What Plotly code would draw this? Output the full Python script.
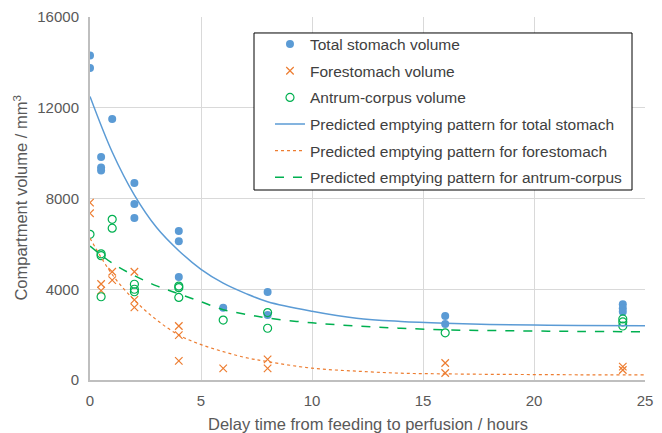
import plotly.graph_objects as go

# ---- data ----
total_t = [0, 0, 0.5, 0.5, 0.5, 1, 2, 2, 2, 4, 4, 4, 6, 8, 8, 16, 16, 24, 24, 24]
total_v = [14300, 13750, 9830, 9370, 9230, 11500, 8680, 7760, 7140, 6570, 6120, 4540,
           3180, 3880, 2870, 2820, 2470, 3340, 3160, 3010]

fore_t = [0, 0, 0.5, 0.5, 1, 1, 2, 2, 2, 4, 4, 4, 6, 8, 8, 16, 16, 24, 24]
fore_v = [7820, 7350, 4230, 3940, 4770, 4400, 4770, 3530, 3200, 2380, 1980, 840,
          510, 910, 510, 750, 310, 590, 440]

antrum_t = [0, 0.5, 0.5, 0.5, 1, 1, 2, 2, 2, 4, 4, 4, 6, 8, 8, 16, 24, 24, 24]
antrum_v = [6420, 5560, 5480, 3670, 7080, 6690, 4220, 4000, 3890, 4140, 4070, 3640,
            2640, 2970, 2280, 2080, 2690, 2560, 2380]

curve_t = [0, 1, 2, 3, 4, 5, 6, 7, 8, 10, 12, 14, 16, 18, 20, 22, 25]
pred_total = [12500, 10050, 8150, 6720, 5700, 4880, 4270, 3820, 3450, 3030, 2720,
              2580, 2500, 2450, 2420, 2400, 2390]
pred_fore = [6250, 4650, 3520, 2650, 1980, 1560, 1250, 990, 810, 520, 390, 300,
             270, 250, 240, 230, 225]
pred_antrum = [5900, 5150, 4600, 4150, 3800, 3450, 3100, 2900, 2730, 2520, 2380,
               2280, 2210, 2180, 2160, 2140, 2130]

x_ticks = [0, 5, 10, 15, 20, 25]
x_ticktext = ["0", "5", "10", "15", "20", "25"]
y_ticks = [0, 4000, 8000, 12000, 16000]
y_ticktext = ["0", "4000", "8000", "12000", "16000"]

x_title = "Delay time from feeding to perfusion / hours"
y_title = "Compartment volume / mm<sup>3</sup>"

BLUE = "#5B9BD5"
ORANGE = "#ED7D31"
GREEN = "#00B050"
FONT = "Liberation Sans, Arial, sans-serif"
TXT = "#595959"

fig = go.Figure()
fig.add_trace(go.Scatter(x=total_t, y=total_v, mode="markers", name="Total stomach volume",
                         marker=dict(symbol="circle", size=8, color=BLUE), legendgroup="a"))
fig.add_trace(go.Scatter(x=fore_t, y=fore_v, mode="markers", name="Forestomach volume",
                         marker=dict(symbol="x-thin", size=7.5, line=dict(color=ORANGE, width=1.2),
                                     color=ORANGE), legendgroup="b"))
fig.add_trace(go.Scatter(x=antrum_t, y=antrum_v, mode="markers", name="Antrum-corpus volume",
                         marker=dict(symbol="circle-open", size=8, color=GREEN,
                                     line=dict(color=GREEN, width=1.2)), legendgroup="c"))
fig.add_trace(go.Scatter(x=curve_t, y=pred_total, mode="lines", line_shape="spline",
                         name="Predicted emptying pattern for total stomach",
                         line=dict(color=BLUE, width=1.5), legendgroup="d"))
fig.add_trace(go.Scatter(x=curve_t, y=pred_fore, mode="lines", line_shape="spline",
                         name="Predicted emptying pattern for forestomach",
                         line=dict(color=ORANGE, width=1.2, dash="dot"), legendgroup="e"))
fig.add_trace(go.Scatter(x=curve_t, y=pred_antrum, mode="lines", line_shape="spline",
                         name="Predicted emptying pattern for antrum-corpus",
                         line=dict(color=GREEN, width=1.5, dash="dash"), legendgroup="f"))

# plot area: x 90..645 px, y 17..380 px
fig.update_layout(
    width=662, height=433,
    margin=dict(l=90, r=17, t=17, b=53, autoexpand=False),
    paper_bgcolor="white", plot_bgcolor="white",
    font=dict(family=FONT, size=15, color=TXT),
    legend=dict(x=0.3243, y=0.971, xanchor="left", yanchor="top",
                borderwidth=0, bgcolor="rgba(0,0,0,0)",
                font=dict(family=FONT, size=15.5, color="#404040"),
                traceorder="grouped", tracegroupgap=3.5, itemwidth=30),
    showlegend=True,
    shapes=[dict(type="rect", xref="paper", yref="paper",
                 x0=0.2955, x1=0.9766, y0=0.5234, y1=0.956,
                 line=dict(color="#000000", width=1), fillcolor="white", layer="above")],
    annotations=[
        dict(text=x_title, xref="paper", yref="paper", x=0.5, y=-0.122,
             xanchor="center", yanchor="middle", showarrow=False,
             font=dict(family=FONT, size=16.5, color=TXT)),
        dict(text=y_title, xref="paper", yref="paper", x=-0.126, y=0.5,
             xanchor="center", yanchor="middle", showarrow=False, textangle=-90,
             font=dict(family=FONT, size=16.5, color=TXT)),
    ],
)
fig.update_xaxes(range=[0, 25], tickvals=x_ticks, ticktext=x_ticktext, showgrid=True,
                 gridcolor="#D9D9D9", gridwidth=1, showline=True, linecolor="#BFBFBF",
                 linewidth=2, zeroline=False, ticks="", automargin=False,
                 ticklabelstandoff=6, tickfont=dict(size=15, color=TXT))
fig.update_yaxes(range=[0, 16000], tickvals=y_ticks, ticktext=y_ticktext, showgrid=True,
                 gridcolor="#D9D9D9", gridwidth=1, showline=True, linecolor="#BFBFBF",
                 linewidth=2, zeroline=False, ticks="", automargin=False,
                 ticklabelstandoff=6, tickfont=dict(size=15, color=TXT))

fig.write_html("out.html", config={"displayModeBar": False},
               post_script="document.body.style.margin='0';document.body.style.overflow='hidden';")
